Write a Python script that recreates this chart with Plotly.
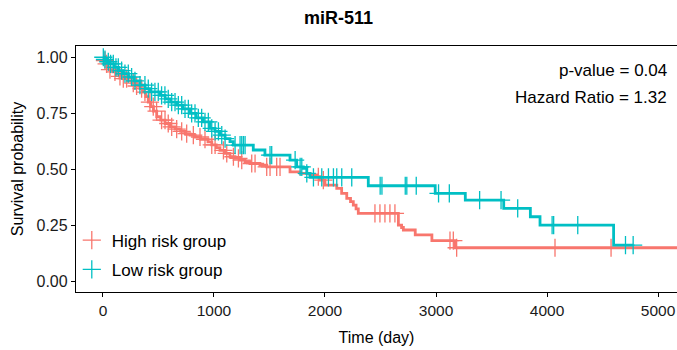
import bisect
import plotly.graph_objects as go

# ---------------- data ----------------
high_times = [0, 10, 25, 40, 60, 90, 120, 150, 183, 220, 260, 300, 333, 360, 385, 408, 430, 455,
              484, 520, 560, 604, 650, 700, 740, 784, 830, 880, 946, 980, 1020, 1054, 1100, 1144,
              1190, 1234, 1280, 1324, 1414, 1475, 1685, 1775, 1865, 1925, 1955, 2000, 2106, 2150,
              2196, 2230, 2255, 2280, 2300, 2661, 2690, 2706, 2813, 2963, 3174]
high_surv = [1.0, 0.985, 0.97, 0.955, 0.945, 0.935, 0.925, 0.915, 0.905, 0.895, 0.885, 0.872, 0.86,
             0.845, 0.825, 0.80, 0.78, 0.76, 0.735, 0.72, 0.705, 0.69, 0.68, 0.67, 0.66, 0.653,
             0.645, 0.635, 0.623, 0.61, 0.598, 0.585, 0.572, 0.557, 0.55, 0.542, 0.535, 0.527,
             0.52, 0.512, 0.49, 0.483, 0.476, 0.468, 0.453, 0.431, 0.416, 0.394, 0.372, 0.357,
             0.342, 0.325, 0.305, 0.253, 0.242, 0.231, 0.209, 0.184, 0.152]
high_end = 5300
high_censor = [18, 33, 63, 108, 153, 183, 213, 273, 303, 348, 378, 423, 453, 483, 528, 559, 588,
               619, 664, 709, 754, 814, 874, 919, 980, 1010, 1085, 1115, 1175, 1220, 1250, 1340,
               1370, 1475, 1505, 1565, 1595, 1940, 1985, 2450, 2495, 2540, 2585, 2630, 3126, 3156,
               3186, 4072, 4577]

low_times = [0, 15, 40, 63, 100, 140, 183, 230, 280, 333, 380, 423, 514, 560, 610, 664, 720, 784,
             840, 904, 964, 1010, 1054, 1100, 1144, 1174, 1354, 1459, 1685, 1745, 1805, 1836,
             1865, 2390, 2993, 3264, 3610, 3850, 3937, 4600]
low_surv = [1.0, 0.99, 0.98, 0.97, 0.955, 0.94, 0.927, 0.912, 0.895, 0.876, 0.86, 0.846, 0.83,
            0.815, 0.80, 0.787, 0.77, 0.75, 0.73, 0.712, 0.683, 0.67, 0.653, 0.638, 0.624, 0.609,
            0.587, 0.564, 0.542, 0.512, 0.505, 0.483, 0.465, 0.428, 0.394, 0.364, 0.327, 0.29,
            0.253, 0.164]
low_end = 4776
low_censor = [3, 18, 48, 69, 93, 117, 138, 168, 198, 228, 258, 288, 333, 378, 408, 438, 468, 498,
              528, 558, 588, 619, 649, 679, 709, 739, 769, 799, 829, 859, 889, 919, 949, 980,
              1010, 1040, 1070, 1100, 1190, 1235, 1250, 1265, 1280, 1505, 1520, 1731, 1776, 1791,
              1836, 1896, 1971, 2031, 2076, 2106, 2151, 2241, 2497, 2513, 2723, 2737, 2822, 3023,
              3120, 3393, 3586, 3736, 4046, 4060, 4277, 4707, 4776]

group_names = ["High risk group", "Low risk group"]
group_colors = ["#F8766D", "#00BFC4"]
x_ticks = [0, 1000, 2000, 3000, 4000, 5000]
y_ticks = [0, 0.25, 0.5, 0.75, 1.0]
y_tick_text = ["0.00", "0.25", "0.50", "0.75", "1.00"]
title_text = "miR-511"
p_value_text = "p-value = 0.04"
hr_text = "Hazard Ratio = 1.32"


def surv_at(times, surv, t):
    i = bisect.bisect_right(times, t) - 1
    return surv[max(i, 0)]


fig = go.Figure()
groups = [
    (high_times, high_surv, high_end, high_censor),
    (low_times, low_surv, low_end, low_censor),
]
for k, (tt, ss, tend, cens) in enumerate(groups):
    col = group_colors[k]
    fig.add_trace(go.Scatter(
        x=tt + [tend], y=ss + [ss[-1]], mode="lines", line=dict(color=col, width=2.8, shape="hv"),
        showlegend=False, hoverinfo="skip", legendgroup=f"g{k}"))
    fig.add_trace(go.Scatter(
        x=cens, y=[surv_at(tt, ss, c) for c in cens], mode="markers", name=group_names[k],
        legendgroup=f"g{k}",
        marker=dict(symbol="cross-thin", size=13, line=dict(color=col, width=1.3), color=col)))

W, H = 677, 350
ML, MT, MB = 76, 46, 58
plot_h = H - MT - MB


def ypaper(ref_px):
    # reference pixel row -> paper y
    return 1 - (ref_px - MT) / plot_h


fig.update_layout(
    width=W, height=H,
    margin=dict(l=ML, r=0, t=MT, b=MB),
    paper_bgcolor="white", plot_bgcolor="white",
    font=dict(family="Liberation Sans, Arial, sans-serif", color="black", size=16),
    title=dict(text=f"<b>{title_text}</b>", x=0.5, xanchor="center", y=1 - 18 / H,
               yanchor="middle", font=dict(size=18, color="black")),
    xaxis=dict(range=[-243, 5171], tickvals=x_ticks, ticks="outside", ticklen=4,
               tickcolor="black", showline=True, linecolor="black", linewidth=1.3, mirror=True,
               showgrid=False, zeroline=False, tickfont=dict(size=15.5, color="#1a1a1a"),
               title=dict(text="Time (day)", font=dict(size=16), standoff=14)),
    yaxis=dict(range=[-0.045, 1.05], tickvals=y_ticks, ticktext=y_tick_text, ticks="outside",
               ticklen=4, tickcolor="black", showline=True, linecolor="black", linewidth=1.3,
               showgrid=False, zeroline=False, tickfont=dict(size=16, color="#1a1a1a"),
               title=dict(text="Survival probability", font=dict(size=16), standoff=8)),
    legend=dict(x=-0.007, xanchor="left", y=0.282, yanchor="top", bgcolor="rgba(0,0,0,0)",
                font=dict(size=17), tracegroupgap=4, itemclick=False),
    annotations=[
        dict(text=p_value_text, x=1.0, xref="paper", xanchor="right", xshift=-8,
             y=ypaper(71), yref="paper", yanchor="middle", showarrow=False, font=dict(size=17)),
        dict(text=hr_text, x=1.0, xref="paper", xanchor="right", xshift=-8,
             y=ypaper(97), yref="paper", yanchor="middle", showarrow=False, font=dict(size=17)),
    ],
)

fig.write_html("out.html", config={"displayModeBar": False},
               post_script="document.body.style.margin='0';document.body.style.overflow='hidden';")
